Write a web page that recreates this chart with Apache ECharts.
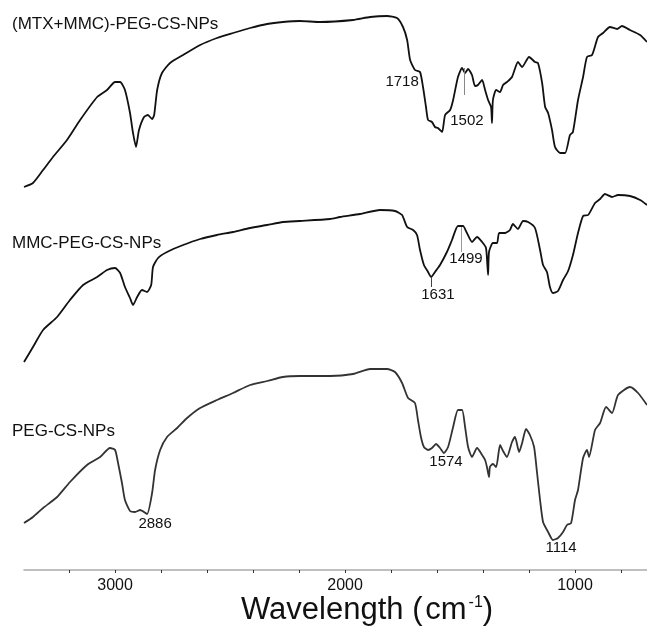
<!DOCTYPE html>
<html>
<head>
<meta charset="utf-8">
<script src="https://cdn.jsdelivr.net/npm/echarts@6/dist/echarts.min.js"></script>
<style>html,body{margin:0;padding:0;background:#fff}#c{width:647px;height:630px}</style>
</head>
<body>
<div id="c"></div>
<script>
// Wavenumber (cm-1) and relative transmittance (a.u., offset per trace)
const seriesNames = ['(MTX+MMC)-PEG-CS-NPs', 'MMC-PEG-CS-NPs', 'PEG-CS-NPs'];

const mtxMmc = [
  [3396,383],[3357,387],[3313,400],[3270,413],[3209,430],[3152,450],[3078,473],[3035,480],[3000,488],[2978,488],
  [2957,480],[2935,457],[2922,437],[2909,423],[2896,440],[2874,453],[2857,455],[2839,451],[2830,455],[2817,480],
  [2796,497],[2761,507],[2704,515],[2630,525],[2557,532],[2487,537],[2413,542],[2339,546],[2270,548],[2196,549],
  [2109,548],[1965,550],[1891,553],[1817,554],[1774,552],[1748,543],[1730,530],[1717,510],[1696,500],[1674,498],
  [1661,483],[1648,463],[1639,450],[1622,448],[1609,443],[1596,442],[1578,438],[1565,455],[1543,460],[1530,470],
  [1509,493],[1491,502],[1478,497],[1465,501],[1448,495],[1435,484],[1422,485],[1404,490],[1391,480],[1378,470],
  [1365,463],[1361,447],[1357,470],[1343,480],[1326,478],[1313,485],[1296,488],[1274,493],[1248,508],[1230,503],
  [1200,513],[1174,508],[1161,507],[1143,487],[1130,463],[1117,457],[1100,440],[1087,423],[1065,417],[1043,417],
  [1022,435],[1009,438],[987,470],[965,493],[948,513],[926,515],[900,533],[878,537],[848,543],[817,541],
  [796,544],[761,540],[717,535],[687,528]
];

const mmc = [
  [3396,208],[3357,223],[3313,240],[3252,253],[3196,270],[3139,285],[3078,293],[3035,300],[3000,302],[2978,297],
  [2957,283],[2935,272],[2922,265],[2904,273],[2883,280],[2861,278],[2843,285],[2835,303],[2813,312],[2774,318],
  [2704,325],[2630,331],[2557,335],[2487,338],[2413,342],[2339,345],[2270,348],[2196,349],[2065,351],[2022,353],
  [1935,356],[1848,360],[1783,359],[1752,355],[1730,343],[1704,340],[1687,335],[1674,320],[1657,305],[1639,298],
  [1626,293],[1609,298],[1587,305],[1557,318],[1535,330],[1509,344],[1487,344],[1470,337],[1448,328],[1426,333],
  [1404,328],[1387,322],[1378,295],[1374,318],[1357,327],[1339,327],[1330,337],[1304,337],[1283,340],[1270,346],
  [1248,341],[1226,349],[1204,348],[1174,342],[1152,320],[1139,305],[1122,298],[1109,283],[1096,277],[1074,279],
  [1052,290],[1030,299],[1009,315],[987,337],[965,354],[943,355],[913,367],[891,371],[870,376],[839,373],
  [813,375],[761,374],[717,370],[687,365]
];

const pegCs = [
  [3396,47],[3357,53],[3313,62],[3252,73],[3196,88],[3122,105],[3065,113],[3022,122],[3000,120],[2987,107],
  [2970,87],[2957,70],[2935,59],[2913,58],[2891,60],[2861,56],[2839,77],[2826,100],[2804,120],[2774,133],
  [2730,142],[2687,152],[2630,162],[2557,170],[2487,177],[2413,185],[2339,189],[2270,193],[2196,194],[2065,194],
  [1965,196],[1891,201],[1817,201],[1783,198],[1752,187],[1726,172],[1696,167],[1683,150],[1670,133],[1657,123],
  [1639,120],[1622,122],[1604,126],[1587,122],[1570,117],[1552,123],[1530,143],[1509,160],[1491,160],[1478,143],
  [1465,123],[1448,113],[1426,122],[1404,115],[1391,110],[1383,103],[1374,93],[1370,103],[1357,106],[1343,103],
  [1326,125],[1313,119],[1296,113],[1274,128],[1261,133],[1243,118],[1230,127],[1213,141],[1196,135],[1178,123],
  [1165,97],[1152,70],[1139,48],[1117,38],[1096,30],[1074,32],[1052,38],[1035,45],[1017,47],[1000,70],
  [987,80],[965,112],[948,120],[939,113],[913,140],[891,147],[865,163],[839,157],[813,175],[761,183],
  [726,177],[687,165]
];

// Peak annotations: [text, wavenumber at label, level at label]
const peaksMtxMmc = [['1718',1752,488],['1502',1470,449]];
const peaksMmc = [['1631',1596,275],['1499',1474,311]];
const peaksPeg = [['2886',2826,46],['1574',1561,108],['1114',1061,22]];
// connector segments: [wavenumber, from level, to level, colour]
const connMtxMmc = [[1483,502,475,'#888']];
const connMmc = [[1626,293,283,'#444'],[1496,343,318,'#999']];

const xTicks = [800,1000,1200,1400,1600,1800,2000,2200,2400,2600,2800,3000,3200];
const xLabels = [1000,2000,3000];

const chart = echarts.init(document.getElementById('c'), null, {renderer:'canvas'});
const FONT = 'Liberation Sans, Arial, sans-serif';

function mp(peaks){
  return {
    symbol:'circle', symbolSize:1, itemStyle:{color:'rgba(0,0,0,0)'},
    label:{show:true, position:'inside', formatter:'{b}', color:'#111', fontSize:15, fontFamily:FONT},
    data: peaks.map(p=>({name:p[0], coord:[p[1],p[2]]}))
  };
}
function ml(conns){
  return {
    symbol:['none','none'], silent:true, label:{show:false},
    data: conns.map(c=>[{coord:[c[0],c[1]], lineStyle:{color:c[3],width:1,type:'solid'}},{coord:[c[0],c[2]]}])
  };
}

const option = {
  animation:false,
  backgroundColor:'#fff',
  grid:{left:24, right:0, top:0, height:570, containLabel:false},
  xAxis:{
    type:'value', inverse:true, min:687, max:3396,
    axisLine:{show:true, lineStyle:{color:'#aaa', width:1.5}},
    axisTick:{show:true, customValues:xTicks, length:3, lineStyle:{color:'#333', width:1}},
    axisLabel:{show:true, customValues:xLabels, fontSize:16, color:'#111', fontFamily:FONT, margin:8,
      formatter:function(v){return String(v);}},
    splitLine:{show:false}
  },
  yAxis:{type:'value', min:0, max:570, show:false},
  series:[
    {name:seriesNames[0], type:'line', data:mtxMmc, showSymbol:false, smooth:0.2,
     lineStyle:{color:'#111', width:1.8}, markPoint:mp(peaksMtxMmc), markLine:ml(connMtxMmc)},
    {name:seriesNames[1], type:'line', data:mmc, showSymbol:false, smooth:0.2,
     lineStyle:{color:'#111', width:1.8}, markPoint:mp(peaksMmc), markLine:ml(connMmc)},
    {name:seriesNames[2], type:'line', data:pegCs, showSymbol:false, smooth:0.2,
     lineStyle:{color:'#333', width:1.8}, markPoint:mp(peaksPeg)}
  ],
  graphic:[
    {type:'text', x:12, y:24, style:{text:seriesNames[0], fill:'#111', font:'17px '+FONT, verticalAlign:'middle'}},
    {type:'text', x:12, y:243, style:{text:seriesNames[1], fill:'#111', font:'17px '+FONT, verticalAlign:'middle'}},
    {type:'text', x:12, y:431, style:{text:seriesNames[2], fill:'#111', font:'17px '+FONT, verticalAlign:'middle'}},
    {type:'text', x:241, y:626, style:{
      text:'{a|Wavelength (}{g| }{a|cm}{s|-1}{a|)}',
      verticalAlign:'bottom',
      rich:{
        a:{fontSize:31, fontFamily:FONT, fill:'#111', color:'#111'},
        g:{fontSize:10, fontFamily:FONT},
        s:{fontSize:16, fontFamily:FONT, fill:'#111', color:'#111', verticalAlign:'top', padding:[0,0,14,2]}
      }
    }}
  ]
};
chart.setOption(option);
</script>
</body>
</html>
